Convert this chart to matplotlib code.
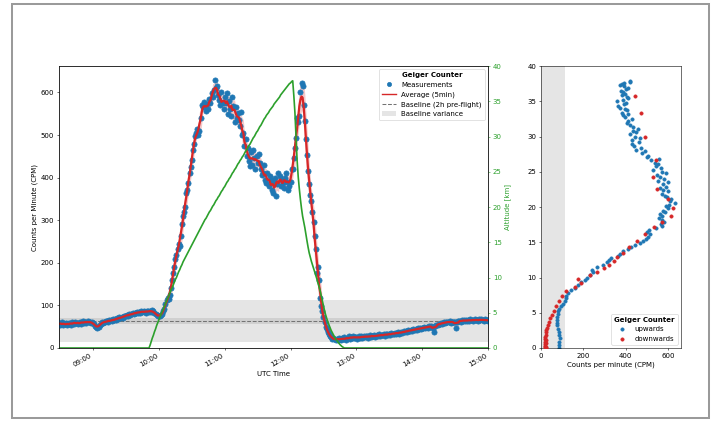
import numpy as np
import pandas as pd
import matplotlib
matplotlib.use("Agg")
import matplotlib.pyplot as plt
import matplotlib.dates as mdates
from matplotlib.patches import Patch, Rectangle
from matplotlib.lines import Line2D

# Geiger counter readings, one per minute from 08:29 to 15:00 UTC
cpm_0829 = [58, 55, 57, 60, 54, 56, 58, 53, 57, 59, 56, 55, 60, 58, 57, 62,
            59, 56, 58, 61, 57, 60, 63, 58, 61, 59, 64, 60, 62, 58, 61]
cpm_09 = [59, 56, 52, 49, 47, 50, 54, 57, 60, 58,
          62, 60, 64, 63, 61, 65, 66, 63, 67, 65,
          68, 66, 70, 69, 72, 70, 73, 71, 74, 76,
          75, 78, 76, 79, 77, 80, 82, 79, 81, 83,
          84, 82, 85, 83, 86, 84, 87, 85, 83, 86,
          88, 85, 87, 84, 89, 86, 83, 80, 77, 75]
cpm_10 = [76, 74, 78, 80, 86, 92, 104, 112, 118, 116,
          125, 140, 160, 176, 190, 208, 218, 232, 245, 239,
          263, 290, 309, 320, 332, 364, 372, 387, 411, 425,
          442, 466, 480, 497, 505, 513, 500, 510, 540, 570,
          565, 578, 568, 556, 572, 560, 585, 575, 599, 590,
          605, 630, 610, 615, 595, 583, 570, 600, 576, 560]
cpm_11 = [590, 575, 599, 550, 580, 560, 545, 590, 568, 530,
          565, 540, 552, 535, 520, 555, 500, 505, 474, 490,
          450, 470, 440, 427, 460, 430, 466, 445, 420, 450,
          435, 455, 435, 420, 405, 411, 430, 395, 388, 410,
          380, 403, 395, 372, 364, 390, 400, 357, 385, 410,
          403, 380, 395, 388, 375, 400, 411, 390, 372, 380]
cpm_12 = [390, 420, 420, 445, 470, 492, 540, 530, 545, 600,
          622, 615, 570, 532, 490, 452, 415, 385, 360, 345,
          320, 296, 262, 232, 175, 190, 160, 118, 98, 86,
          72, 60, 50, 44, 38, 32, 28, 25, 22, 24,
          20, 18, 22, 19, 24, 21, 18, 23, 20, 25,
          22, 19, 24, 27, 21, 25, 23, 28, 24, 26]
cpm_13 = [25, 22, 27, 24, 28, 23, 26, 29, 25, 27,
          28, 24, 30, 26, 29, 27, 31, 25, 28, 30,
          29, 32, 27, 31, 30, 33, 28, 32, 34, 30,
          33, 31, 35, 32, 34, 36, 33, 35, 37, 34,
          36, 38, 35, 39, 37, 40, 38, 42, 39, 41,
          43, 40, 44, 42, 45, 43, 46, 44, 47, 45]
cpm_14 = [48, 46, 49, 47, 50, 48, 51, 49, 52, 50,
          48, 38, 52, 55, 53, 57, 56, 58, 57, 59,
          60, 58, 62, 60, 61, 63, 59, 62, 61, 60,
          62, 48, 61, 63, 64, 62, 65, 63, 66, 64,
          65, 63, 66, 64, 67, 65, 63, 66, 68, 65,
          66, 64, 67, 65, 68, 66, 64, 67, 65, 66]
cpm_15 = [64]

# balloon altitude [km]: ascent 09:51-12:02, descent 12:03-12:49
alt_ascent = [0.0, 0.4, 0.9, 1.4, 1.8, 2.3, 2.7, 3.2, 3.6,
              4.0, 4.4, 4.8, 5.2, 5.5, 5.9, 6.3, 6.7, 7.1, 7.4,
              7.8, 8.2, 8.5, 8.9, 9.3, 9.7, 10.0, 10.4, 10.8, 11.1,
              11.5, 11.8, 12.2, 12.5, 12.8, 13.1, 13.4, 13.7, 14.0, 14.3,
              14.6, 14.9, 15.2, 15.5, 15.8, 16.1, 16.4, 16.7, 17.0, 17.3,
              17.6, 17.9, 18.2, 18.4, 18.7, 19.0, 19.3, 19.5, 19.8, 20.1,
              20.3, 20.6, 20.9, 21.1, 21.4, 21.6, 21.9, 22.2, 22.4, 22.7,
              22.9, 23.2, 23.5, 23.7, 24.0, 24.2, 24.5, 24.8, 25.0, 25.3,
              25.5, 25.8, 26.1, 26.3, 26.6, 26.8, 27.1, 27.3, 27.6, 27.9,
              28.1, 28.4, 28.7, 28.9, 29.2, 29.5, 29.8, 30.0, 30.3, 30.6,
              30.8, 31.1, 31.4, 31.6, 31.9, 32.2, 32.5, 32.7, 33.0, 33.2,
              33.4, 33.7, 33.9, 34.1, 34.3, 34.6, 34.8, 35.0, 35.2, 35.4,
              35.6, 35.9, 36.1, 36.3, 36.5, 36.7, 36.9, 37.1, 37.3, 37.5,
              37.6, 37.8, 37.9]
alt_descent = [35.8, 33.4, 30.0, 26.6, 24.3, 22.6, 21.1,
               19.8, 18.7, 17.9, 17.1, 16.1, 15.2, 14.3, 13.5, 12.9, 12.3,
               11.8, 11.3, 10.8, 10.3, 9.8, 9.2, 8.7, 8.1, 7.4, 6.7,
               6.0, 5.3, 4.7, 4.2, 3.7, 3.3, 2.9, 2.5, 2.2, 1.9,
               1.6, 1.3, 1.1, 0.9, 0.7, 0.5, 0.35, 0.2, 0.1, 0.0]

start = "2019-07-14 08:29"
launch = "2019-07-14 09:51"
landing = "2019-07-14 12:49"

baseline_mean = 63.0     # 2h pre-flight mean
baseline_std = 7.0       # band of +-std around the mean, +-variance outside

cpm = np.array(cpm_0829 + cpm_09 + cpm_10 + cpm_11 + cpm_12 + cpm_13 + cpm_14 + cpm_15, float)
times = pd.date_range(start, periods=len(cpm), freq="min")

i_launch = times.get_loc(pd.Timestamp(launch))
i_land = times.get_loc(pd.Timestamp(landing))
alt = np.zeros(len(cpm))
alt[i_launch:i_launch + len(alt_ascent)] = alt_ascent
alt[i_launch + len(alt_ascent):i_land + 1] = alt_descent
i_burst = int(np.argmax(alt))

s = pd.Series(cpm)
avg = s.rolling(5, center=True, min_periods=1).mean().to_numpy()
sd = s.rolling(5, center=True, min_periods=1).std().fillna(0).to_numpy()

var = baseline_std ** 2

fig = plt.figure(figsize=(14.36, 8.42), dpi=50)
fig.add_artist(Rectangle((0.0167, 0.0071), 0.9708, 0.9834, transform=fig.transFigure,
                         fill=False, ec="#9a9a9a", lw=2.9))

ax = fig.add_axes([0.0822, 0.1734, 0.5975, 0.6698])
ax.axhspan(baseline_mean - var, baseline_mean + var, color="0.5", alpha=0.2, lw=0, zorder=0)
ax.axhspan(baseline_mean - baseline_std, baseline_mean + baseline_std, color="0.5", alpha=0.2,
           lw=0, zorder=0)
ax.axhline(baseline_mean, color="0.45", ls="--", lw=1.5, zorder=1)
ax.fill_between(times, avg - sd, avg + sd, color="tab:red", alpha=0.25, lw=0, zorder=2)
ax.plot(times, cpm, "o", color="tab:blue", ms=7.5, zorder=3)
ax.plot(times, avg, "-", color="tab:red", lw=3.2, zorder=4)
ax.set_xlim(times[0], times[-1])
ax.set_ylim(0, 662)
ax.set_ylabel("Counts per Minute (CPM)")
ax.set_xlabel("UTC Time")
ax.xaxis.set_major_locator(mdates.HourLocator())
ax.xaxis.set_major_formatter(mdates.DateFormatter("%H:%M"))
plt.setp(ax.get_xticklabels(), rotation=30, ha="right")

handles = [Line2D([], [], ls="none", marker="o", color="tab:blue", ms=6),
           Line2D([], [], color="tab:red", lw=2),
           Line2D([], [], color="0.45", ls="--", lw=1.5),
           Patch(facecolor="0.5", alpha=0.2)]
labels = ["Measurements", "Average (5min)", "Baseline (2h pre-flight)", "Baseline variance"]
ax.legend(handles, labels, loc="upper right", title="Geiger Counter",
          title_fontproperties={"weight": "bold"})

ax2 = ax.twinx()
ax2.plot(times, alt, color="tab:green", lw=2.4)
ax2.set_ylim(0, 40)
ax2.set_ylabel("Altitude [km]", color="tab:green")
ax2.tick_params(axis="y", colors="tab:green")

# counts against altitude, split at the burst
idx = np.arange(len(cpm))
up_mask = (idx >= i_launch) & (idx <= i_burst)
down_mask = (idx > i_burst) & (idx <= i_land)

ax3 = fig.add_axes([0.7535, 0.1734, 0.195, 0.6698])
ax3.axvspan(0, baseline_mean + var, color="0.5", alpha=0.2, lw=0, zorder=0)
ax3.scatter(cpm[up_mask], alt[up_mask], s=22, color="tab:blue", label="upwards", zorder=2)
ax3.scatter(cpm[down_mask], alt[down_mask], s=22, color="tab:red", label="downwards", zorder=3)
ax3.set_xlim(0, 660)
ax3.set_ylim(0, 40)
ax3.set_xticks([0, 200, 400, 600])
ax3.set_xlabel("Counts per minute (CPM)")
ax3.legend(loc="lower right", title="Geiger Counter", title_fontproperties={"weight": "bold"})

fig.savefig("out.png", dpi=50)
